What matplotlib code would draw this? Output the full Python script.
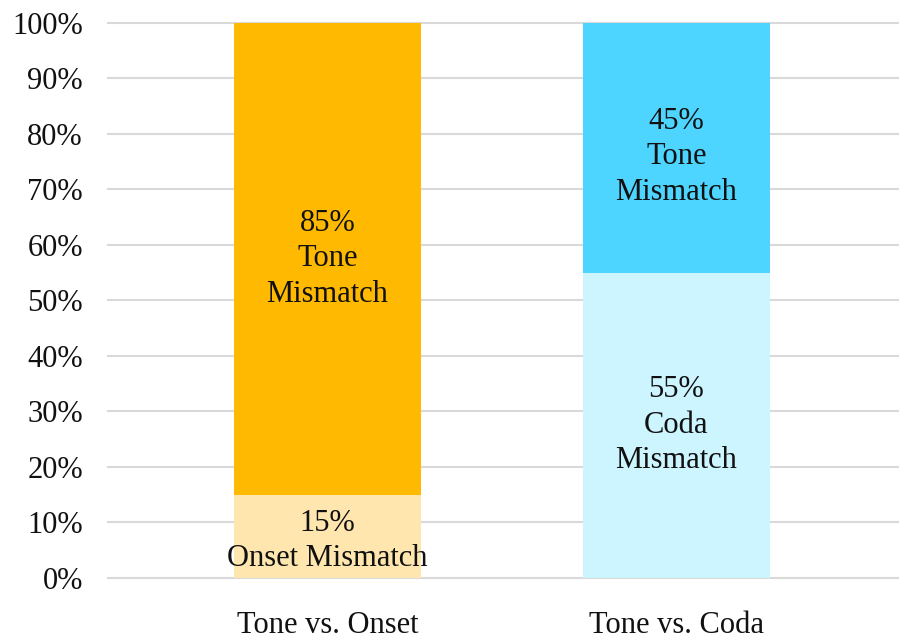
import matplotlib
matplotlib.use("Agg")
import matplotlib.pyplot as plt
from matplotlib.ticker import PercentFormatter

plt.rcParams['font.family'] = ['Liberation Serif', 'DejaVu Serif']

categories = ["Tone vs. Onset", "Tone vs. Coda"]
bottom_values = [15, 55]
top_values = [85, 45]
bottom_labels = ["Onset Mismatch", "Coda\nMismatch"]
top_labels = ["Tone\nMismatch", "Tone\nMismatch"]
bottom_colors = ["#FFE6AF", "#CCF5FF"]
top_colors = ["#FFB900", "#4DD5FF"]
y_ticks = [0, 10, 20, 30, 40, 50, 60, 70, 80, 90, 100]

fig = plt.figure(figsize=(8.99, 6.41), dpi=100)
ax = fig.add_axes([0.120, 0.0983, 0.880, 0.8659])

x = list(range(len(categories)))
width = 0.536
ax.bar(x, bottom_values, width, color=bottom_colors, zorder=2)
ax.bar(x, top_values, width, bottom=bottom_values, color=top_colors, zorder=2)

fs = 22
ls = 1.3
top_shift = [0, -1.6]
bottom_shift = [-0.8, 0]
for i in x:
    b = bottom_values[i]
    t = top_values[i]
    ax.text(i, b / 2 + bottom_shift[i], f"{b}%\n{bottom_labels[i]}", ha="center",
            va="center", fontsize=fs, linespacing=ls, color="#111111", zorder=3)
    ax.text(i, b + t / 2 + top_shift[i], f"{t}%\n{top_labels[i]}", ha="center",
            va="center", fontsize=fs, linespacing=ls, color="#111111", zorder=3)

ax.set_ylim(0, 100)
ax.set_xlim(-0.629, 1.6375)
ax.set_yticks(y_ticks)
ax.yaxis.set_major_formatter(PercentFormatter(decimals=0))
ax.set_xticks(x)
ax.set_xticklabels(categories)
ax.tick_params(axis="both", length=0, labelsize=fs, colors="#111111")
ax.tick_params(axis="y", pad=18)
ax.tick_params(axis="x", pad=24)
ax.grid(axis="y", color="#D9D9D9", linewidth=1.5, zorder=1)
ax.set_axisbelow(True)
for gl in ax.get_ygridlines():
    gl.set_clip_on(False)
for s in ax.spines.values():
    s.set_visible(False)

fig.savefig("out.png", dpi=100)
